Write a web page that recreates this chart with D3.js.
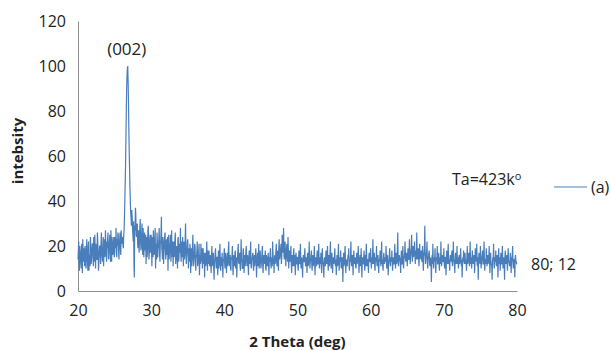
<!DOCTYPE html>
<html>
<head>
<meta charset="utf-8">
<script src="https://cdn.jsdelivr.net/npm/d3@7.9.0/dist/d3.min.js"></script>
<style>
  body { margin: 0; background: #fff; }
  svg text { font-family: "Open Sans", "Liberation Sans", sans-serif; fill: #222; }
</style>
</head>
<body>
<svg width="611" height="351"></svg>
<script>
// 2 theta sampling: readings at 20.0, 20.1 ... 80.0 and the half steps 20.05 ... 79.95
const thetaStart = 20;
const thetaStep = 0.1;

// intensity at whole steps, 10 points per degree (20.0 .. 80.0)
const intensity = [
  14, 22, 9, 18, 12, 21, 8, 16, 19, 11,
  17, 10, 23, 13, 20, 9, 15, 24, 12, 18,
  21, 11, 16, 25, 10, 19, 14, 22, 9, 17,
  20, 12, 26, 15, 18, 11, 23, 16, 21, 13,
  19, 26, 14, 22, 17, 27, 13, 21, 18, 24,
  16, 22, 28, 15, 20, 25, 14, 23, 19, 27,
  21, 24, 19, 27, 40, 56, 80, 96, 100, 84,
  62, 46, 35, 29, 33, 25, 31, 6, 27, 34,
  24, 30, 19, 27, 22, 32, 18, 25, 20, 28,
  15, 26, 21, 12, 24, 18, 29, 14, 22, 17,
  25, 11, 20, 27, 16, 23, 10, 21, 26, 15,
  19, 28, 13, 22, 33, 17, 24, 12, 20, 26,
  14, 23, 18, 9, 25, 16, 21, 13, 27, 19,
  11, 22, 17, 26, 14, 20, 10, 24, 15, 21,
  28, 13, 19, 24, 11, 22, 16, 30, 12, 18,
  23, 10, 17, 21, 8, 19, 14, 25, 11, 16,
  20, 9, 15, 22, 12, 18, 7, 16, 21, 13,
  10, 19, 14, 6, 17, 12, 22, 9, 15, 18,
  11, 16, 8, 20, 13, 17, 5, 14, 19, 10,
  15, 7, 18, 12, 21, 9, 14, 17, 6, 13,
  19, 10, 15, 8, 17, 12, 22, 11, 16, 9,
  14, 20, 7, 16, 11, 18, 13, 6, 15, 21,
  12, 17, 9, 23, 14, 10, 19, 8, 16, 13,
  20, 11, 15, 7, 18, 12, 22, 10, 14, 17,
  9, 16, 13, 19, 6, 15, 11, 21, 12, 18,
  10, 14, 20, 8, 16, 12, 18, 9, 15, 11,
  17, 7, 13, 19, 10, 15, 22, 12, 8, 16,
  14, 21, 11, 18, 9, 23, 15, 19, 12, 25,
  17, 28, 14, 22, 11, 19, 16, 24, 10, 18,
  13, 20, 8, 16, 11, 19, 14, 7, 17, 12,
  15, 9, 18, 12, 21, 10, 14, 6, 16, 13,
  19, 11, 15, 8, 17, 12, 22, 10, 14, 18,
  9, 16, 13, 20, 7, 15, 11, 18, 12, 21,
  10, 14, 17, 8, 19, 13, 6, 15, 11, 18,
  12, 20, 9, 16, 14, 22, 10, 17, 8, 15,
  13, 19, 11, 7, 16, 12, 21, 9, 14, 18,
  10, 15, 4, 17, 12, 20, 8, 14, 11, 16,
  19, 9, 13, 22, 11, 16, 7, 18, 12, 15,
  10, 17, 13, 20, 8, 14, 11, 19, 6, 15,
  12, 18, 9, 16, 21, 11, 14, 8, 17, 13,
  19, 10, 15, 23, 12, 17, 9, 14, 20, 11,
  16, 8, 13, 18, 11, 22, 14, 9, 17, 12,
  15, 20, 10, 16, 7, 13, 19, 11, 14, 18,
  9, 15, 12, 21, 10, 17, 13, 26, 11, 16,
  14, 8, 18, 12, 20, 10, 15, 22, 13, 17,
  11, 19, 14, 23, 12, 18, 25, 13, 20, 16,
  22, 12, 17, 26, 14, 19, 11, 21, 15, 18,
  13, 20, 9, 17, 29, 12, 16, 22, 10, 15,
  18, 11, 14, 4, 16, 21, 10, 13, 19, 8,
  15, 20, 12, 17, 9, 14, 22, 11, 16, 13,
  19, 10, 15, 7, 18, 12, 21, 14, 9, 16,
  13, 18, 11, 22, 14, 8, 17, 12, 20, 15,
  10, 16, 13, 19, 11, 6, 15, 18, 12, 17,
  14, 9, 20, 13, 17, 11, 22, 15, 10, 18,
  12, 16, 8, 19, 14, 21, 11, 5, 17, 13,
  20, 10, 15, 18, 12, 22, 9, 14, 19, 11,
  16, 13, 20, 8, 17, 12, 5, 15, 21, 10,
  14, 18, 11, 16, 6, 19, 13, 9, 17, 12,
  20, 10, 15, 5, 18, 12, 16, 9, 19, 13,
  11, 17, 8, 15, 20, 10, 14, 6, 16, 13,
  12
];

// intensity at the half steps (20.05 .. 79.95)
const intensityHalf = [
  18, 12, 20, 15, 10, 17, 23, 13, 16, 20,
  12, 19, 14, 9, 22, 16, 11, 19, 14, 21,
  15, 24, 13, 18, 21, 14, 26, 17, 12, 20,
  16, 22, 18, 13, 24, 19, 15, 27, 17, 22,
  23, 15, 20, 25, 13, 19, 24, 16, 22, 15,
  24, 19, 17, 23, 26, 18, 21, 26, 16, 22,
  22, 20, 25, 33, 48, 68, 90, 99, 93, 72,
  54, 40, 32, 36, 28, 22, 12, 29, 37, 25,
  29, 21, 26, 17, 28, 23, 20, 30, 16, 23,
  21, 18, 25, 20, 15, 27, 22, 17, 25, 20,
  19, 24, 15, 22, 19, 28, 17, 14, 22, 20,
  24, 16, 21, 26, 19, 14, 22, 18, 25, 17,
  20, 16, 24, 21, 14, 19, 25, 17, 15, 22,
  18, 15, 23, 12, 19, 16, 23, 13, 20, 17,
  16, 22, 15, 18, 21, 14, 23, 19, 16, 22,
  15, 19, 13, 18, 15, 11, 20, 16, 14, 21,
  13, 16, 18, 11, 15, 21, 14, 12, 17, 19,
  15, 12, 17, 13, 11, 16, 14, 18, 12, 13,
  14, 12, 15, 11, 16, 10, 13, 17, 12, 15,
  12, 14, 10, 16, 13, 15, 11, 12, 14, 16,
  12, 17, 13, 14, 11, 18, 14, 13, 10, 15,
  16, 11, 13, 14, 17, 10, 15, 12, 18, 13,
  15, 11, 16, 13, 10, 17, 12, 15, 11, 18,
  14, 16, 12, 15, 13, 17, 11, 14, 16, 12,
  13, 11, 15, 14, 12, 17, 13, 10, 16, 14,
  12, 17, 11, 14, 13, 15, 10, 16, 12, 14,
  11, 15, 16, 12, 14, 11, 17, 13, 15, 12,
  18, 13, 16, 12, 20, 14, 17, 21, 15, 19,
  22, 16, 20, 17, 15, 21, 13, 18, 15, 14,
  16, 12, 15, 13, 17, 11, 16, 13, 12, 15,
  11, 14, 13, 16, 12, 15, 11, 14, 13, 15,
  14, 13, 12, 16, 11, 15, 14, 13, 16, 12,
  14, 11, 15, 12, 14, 13, 16, 12, 15, 13,
  15, 12, 11, 16, 12, 10, 14, 12, 15, 13,
  16, 13, 14, 11, 17, 12, 15, 13, 14, 12,
  15, 12, 14, 13, 11, 16, 12, 15, 13, 11,
  14, 12, 13, 11, 15, 14, 13, 12, 14, 15,
  12, 14, 16, 13, 14, 12, 15, 13, 14, 11,
  13, 12, 15, 14, 12, 16, 13, 11, 14, 12,
  15, 13, 14, 11, 16, 14, 12, 15, 13, 16,
  13, 14, 12, 16, 14, 11, 15, 13, 12, 15,
  12, 14, 15, 13, 16, 12, 11, 15, 13, 14,
  13, 15, 14, 12, 13, 16, 12, 15, 13, 12,
  14, 12, 16, 13, 15, 12, 18, 14, 13, 15,
  13, 15, 12, 16, 13, 14, 17, 15, 14, 16,
  15, 14, 17, 16, 15, 19, 16, 18, 15, 17,
  16, 18, 14, 17, 16, 15, 17, 14, 16, 15,
  17, 13, 15, 19, 16, 14, 18, 13, 14, 17,
  13, 15, 12, 14, 12, 13, 15, 14, 11, 13,
  14, 12, 15, 13, 15, 12, 14, 15, 13, 14,
  13, 15, 12, 14, 13, 16, 12, 13, 15, 14,
  15, 12, 14, 13, 12, 15, 13, 14, 12, 13,
  14, 12, 15, 13, 14, 12, 13, 15, 14, 12,
  13, 15, 12, 14, 13, 16, 12, 13, 15, 14,
  13, 15, 12, 14, 13, 12, 15, 13, 14, 12,
  14, 13, 16, 12, 15, 13, 14, 12, 15, 13,
  12, 15, 13, 14, 12, 11, 13, 14, 12, 15,
  13, 12, 15, 13, 14, 12, 15, 13, 12, 14,
  13, 14, 12, 15, 13, 14, 12, 15, 13, 12,
  14, 13, 12, 15, 13, 14, 12, 15, 13, 12
];

const xTicks = [20, 30, 40, 50, 60, 70, 80];
const yTicks = [0, 20, 40, 60, 80, 100, 120];
const seriesName = "(a)";
const legendNote = "Ta=423k";
const peakLabel = "(002)";
const peakTheta = 26.8;
const peakValue = 100;

// interleave whole and half step readings
const data = [];
intensity.forEach((v, i) => {
  data.push({ x: thetaStart + i * thetaStep, y: v });
  if (i < intensityHalf.length) {
    data.push({ x: thetaStart + (i + 0.5) * thetaStep, y: intensityHalf[i] });
  }
});

const svg = d3.select("svg");
const margin = { left: 78, right: 94, top: 21, bottom: 60 };
const W = 611, H = 351;

const x = d3.scaleLinear().domain([20, 80]).range([margin.left, W - margin.right]);
const y = d3.scaleLinear().domain([0, 120]).range([H - margin.bottom, margin.top]);

const axisColor = "#8c8c8c";
const lineColor = "#4a7ebb";

// y axis
const yAxis = svg.append("g")
  .attr("transform", `translate(${margin.left},0)`)
  .call(d3.axisLeft(y).tickValues(yTicks).tickSize(0).tickPadding(12));
yAxis.select(".domain").attr("stroke", axisColor);
yAxis.selectAll("text").style("font-size", "16px").attr("fill", "#222");

// x axis
const xAxis = svg.append("g")
  .attr("transform", `translate(0,${y(0)})`)
  .call(d3.axisBottom(x).tickValues(xTicks).tickSize(0).tickPadding(14));
xAxis.select(".domain").attr("stroke", axisColor);
xAxis.selectAll("text").style("font-size", "16px").attr("fill", "#222");

// the scan
const line = d3.line().x(d => x(d.x)).y(d => y(d.y));
svg.append("path")
  .datum(data)
  .attr("fill", "none")
  .attr("stroke", lineColor)
  .attr("stroke-width", 1.2)
  .attr("d", line);

// peak label
svg.append("text")
  .attr("x", x(peakTheta) - 1)
  .attr("y", y(peakValue) - 11)
  .attr("text-anchor", "middle")
  .style("font-size", "17px")
  .text(peakLabel);

// last point label
const last = data[data.length - 1];
svg.append("text")
  .attr("x", x(last.x) + 14)
  .attr("y", y(last.y) + 6)
  .style("font-size", "16px")
  .text(`${last.x}; ${last.y}`);

// axis titles
svg.append("text")
  .attr("x", (x(20) + x(80)) / 2)
  .attr("y", 347)
  .attr("text-anchor", "middle")
  .style("font-size", "15px")
  .style("font-weight", "bold")
  .text("2 Theta (deg)");

svg.append("text")
  .attr("transform", `translate(23,151) rotate(-90)`)
  .attr("text-anchor", "middle")
  .style("font-size", "15px")
  .style("font-weight", "bold")
  .text("intebsity");

// legend
const note = svg.append("text")
  .attr("x", 452)
  .attr("y", 185)
  .style("font-size", "16px")
  .text(legendNote);
note.append("tspan").attr("dy", -5).style("font-size", "11px").text("o");

svg.append("line")
  .attr("x1", 554).attr("x2", 587)
  .attr("y1", 187).attr("y2", 187)
  .attr("stroke", lineColor)
  .attr("stroke-width", 1);
svg.append("text")
  .attr("x", 591)
  .attr("y", 193)
  .style("font-size", "16px")
  .text(seriesName);
</script>
</body>
</html>
